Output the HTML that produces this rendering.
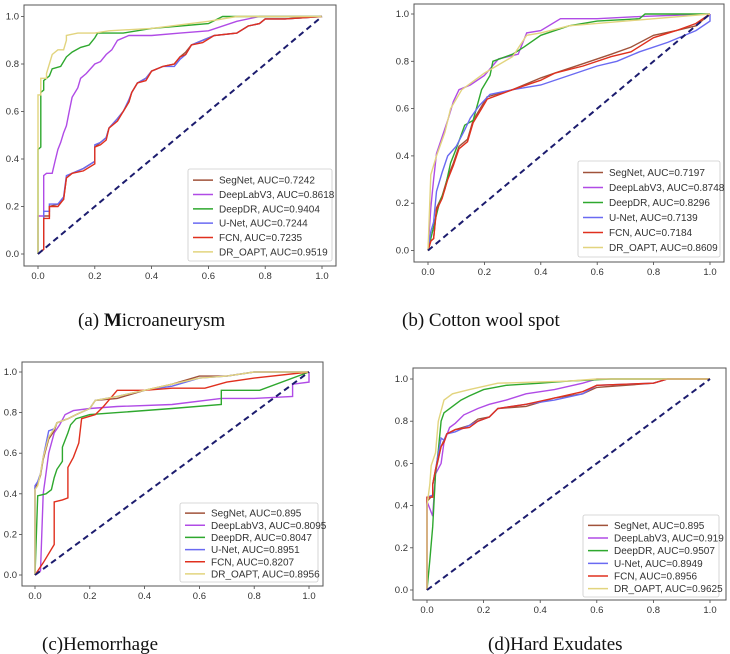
<!DOCTYPE html>
<html><head><meta charset="utf-8"><style>
html,body{margin:0;padding:0;background:#fff;}
svg{display:block;font-family:"Liberation Sans","DejaVu Sans",sans-serif;}
.cap{font-family:"Liberation Serif",serif;font-size:19px;fill:#111;}
</style></head><body>
<svg id="fig" width="730" height="654" viewBox="0 0 730 654"></svg>
<script>
const seriesNames = ["SegNet","DeepLabV3","DeepDR","U-Net","FCN","DR_OAPT"];
const seriesColors = ["#a0523a","#b04be6","#2ea82e","#6a6af2","#e0301e","#e2d47e"];
const tickLabels = ["0.0","0.2","0.4","0.6","0.8","1.0"];
const tickValues = [0,0.2,0.4,0.6,0.8,1.0];
const aucA = ["0.7242","0.8618","0.9404","0.7244","0.7235","0.9519"];
const aucB = ["0.7197","0.8748","0.8296","0.7139","0.7184","0.8609"];
const aucC = ["0.895","0.8095","0.8047","0.8951","0.8207","0.8956"];
const aucD = ["0.895","0.919","0.9507","0.8949","0.8956","0.9625"];

// Panel A (Microaneurysm) [fpr, tpr]
const aSegNet = [[0,0],[0.02,0.02],[0.02,0.16],[0.04,0.16],[0.04,0.2],[0.07,0.21],[0.09,0.23],[0.1,0.32],[0.12,0.34],[0.16,0.36],[0.2,0.39],[0.2,0.45],[0.22,0.47],[0.24,0.49],[0.25,0.53],[0.28,0.57],[0.3,0.6],[0.32,0.64],[0.33,0.68],[0.35,0.72],[0.38,0.74],[0.4,0.77],[0.44,0.79],[0.48,0.8],[0.5,0.83],[0.52,0.85],[0.54,0.88],[0.58,0.9],[0.62,0.92],[0.7,0.93],[0.74,0.96],[0.78,0.97],[0.8,0.99],[0.87,0.99],[1,1]];
const aDeepLab = [[0,0],[0,0.16],[0.02,0.16],[0.02,0.33],[0.03,0.34],[0.05,0.34],[0.06,0.39],[0.07,0.44],[0.08,0.47],[0.09,0.51],[0.1,0.54],[0.11,0.6],[0.12,0.66],[0.14,0.7],[0.15,0.74],[0.17,0.76],[0.2,0.8],[0.22,0.81],[0.24,0.84],[0.26,0.86],[0.28,0.9],[0.32,0.92],[0.4,0.92],[0.5,0.93],[0.6,0.94],[0.7,0.98],[0.78,1.0],[1,1]];
const aDeepDR = [[0,0],[0,0.44],[0.01,0.45],[0.01,0.68],[0.02,0.69],[0.02,0.73],[0.04,0.75],[0.05,0.78],[0.08,0.79],[0.1,0.83],[0.12,0.85],[0.15,0.87],[0.18,0.88],[0.2,0.91],[0.21,0.93],[0.3,0.93],[0.4,0.95],[0.5,0.96],[0.6,0.97],[0.65,1.0],[1,1]];
const aUNet = [[0,0],[0.02,0.02],[0.02,0.18],[0.04,0.18],[0.04,0.21],[0.07,0.21],[0.09,0.24],[0.1,0.33],[0.12,0.34],[0.16,0.36],[0.2,0.39],[0.2,0.46],[0.22,0.47],[0.24,0.49],[0.25,0.53],[0.28,0.57],[0.3,0.6],[0.32,0.65],[0.33,0.68],[0.35,0.72],[0.38,0.74],[0.4,0.77],[0.44,0.79],[0.48,0.79],[0.5,0.82],[0.52,0.84],[0.54,0.88],[0.58,0.9],[0.62,0.92],[0.7,0.93],[0.74,0.96],[0.78,0.97],[0.8,0.99],[0.87,0.99],[1,1]];
const aFCN = [[0,0],[0.02,0.02],[0.02,0.15],[0.04,0.15],[0.04,0.2],[0.07,0.2],[0.09,0.23],[0.1,0.32],[0.12,0.34],[0.16,0.35],[0.2,0.38],[0.2,0.45],[0.22,0.46],[0.24,0.48],[0.25,0.53],[0.28,0.56],[0.3,0.6],[0.32,0.64],[0.33,0.68],[0.35,0.72],[0.38,0.73],[0.4,0.77],[0.44,0.79],[0.48,0.8],[0.5,0.83],[0.52,0.84],[0.54,0.88],[0.58,0.89],[0.62,0.92],[0.7,0.93],[0.74,0.96],[0.78,0.97],[0.8,0.99],[0.87,0.99],[1,1]];
const aOAPT = [[0,0],[0,0.67],[0.01,0.67],[0.01,0.74],[0.03,0.74],[0.03,0.76],[0.05,0.84],[0.07,0.86],[0.09,0.86],[0.1,0.9],[0.1,0.92],[0.14,0.93],[0.2,0.93],[0.25,0.94],[0.4,0.95],[0.6,0.98],[0.7,1.0],[1,1]];

// Panel B (Cotton wool spot)
const bSegNet = [[0,0],[0.01,0.04],[0.02,0.05],[0.03,0.18],[0.05,0.23],[0.07,0.31],[0.09,0.37],[0.11,0.44],[0.14,0.47],[0.16,0.55],[0.19,0.61],[0.21,0.65],[0.3,0.68],[0.4,0.73],[0.45,0.75],[0.55,0.79],[0.65,0.83],[0.72,0.86],[0.8,0.91],[0.88,0.93],[0.95,0.95],[1,1]];
const bDeepLab = [[0,0],[0.01,0.18],[0.02,0.3],[0.03,0.41],[0.05,0.48],[0.07,0.55],[0.09,0.63],[0.11,0.68],[0.15,0.7],[0.2,0.74],[0.25,0.81],[0.32,0.83],[0.35,0.92],[0.4,0.93],[0.47,0.98],[0.6,0.98],[0.76,0.99],[1,1]];
const bDeepDR = [[0,0],[0.01,0.05],[0.02,0.1],[0.04,0.2],[0.06,0.26],[0.08,0.37],[0.1,0.43],[0.13,0.53],[0.16,0.55],[0.19,0.68],[0.22,0.74],[0.23,0.8],[0.3,0.83],[0.34,0.86],[0.4,0.91],[0.5,0.95],[0.6,0.97],[0.75,0.98],[0.77,1.0],[1,1]];
const bUNet = [[0,0],[0.01,0.08],[0.02,0.12],[0.03,0.25],[0.05,0.33],[0.07,0.4],[0.1,0.44],[0.13,0.51],[0.15,0.56],[0.18,0.61],[0.22,0.66],[0.3,0.68],[0.4,0.7],[0.5,0.74],[0.6,0.78],[0.67,0.8],[0.75,0.84],[0.85,0.88],[0.95,0.93],[1,0.97],[1,1]];
const bFCN = [[0,0],[0.01,0.04],[0.02,0.05],[0.03,0.17],[0.05,0.22],[0.07,0.3],[0.09,0.36],[0.11,0.43],[0.14,0.46],[0.16,0.54],[0.19,0.6],[0.21,0.64],[0.3,0.68],[0.4,0.72],[0.45,0.75],[0.55,0.78],[0.65,0.82],[0.72,0.84],[0.8,0.9],[0.88,0.93],[0.95,0.96],[1,1]];
const bOAPT = [[0,0],[0.01,0.32],[0.03,0.4],[0.06,0.5],[0.08,0.6],[0.12,0.68],[0.2,0.75],[0.3,0.82],[0.35,0.91],[0.4,0.92],[0.5,0.95],[0.7,0.97],[1,1]];

// Panel C (Hemorrhage)
const cSegNet = [[0,0],[0,0.43],[0.01,0.45],[0.02,0.49],[0.03,0.57],[0.05,0.67],[0.07,0.71],[0.08,0.75],[0.12,0.77],[0.15,0.79],[0.2,0.82],[0.22,0.86],[0.3,0.87],[0.4,0.91],[0.5,0.94],[0.6,0.98],[0.7,0.98],[0.8,1.0],[1,1]];
const cDeepLab = [[0,0],[0.02,0.02],[0.03,0.4],[0.04,0.5],[0.05,0.6],[0.07,0.7],[0.09,0.74],[0.11,0.79],[0.14,0.81],[0.2,0.82],[0.3,0.83],[0.5,0.84],[0.68,0.87],[0.8,0.87],[0.94,0.88],[0.94,0.94],[1,0.95],[1,1]];
const cDeepDR = [[0,0],[0.01,0.39],[0.04,0.4],[0.06,0.42],[0.07,0.48],[0.08,0.52],[0.1,0.56],[0.1,0.63],[0.12,0.7],[0.13,0.74],[0.15,0.77],[0.2,0.79],[0.3,0.8],[0.5,0.82],[0.68,0.84],[0.68,0.91],[0.82,0.91],[1,1]];
const cUNet = [[0,0],[0,0.44],[0.01,0.46],[0.02,0.5],[0.03,0.58],[0.05,0.71],[0.07,0.72],[0.08,0.75],[0.12,0.77],[0.15,0.79],[0.2,0.82],[0.22,0.86],[0.3,0.88],[0.4,0.91],[0.5,0.93],[0.6,0.97],[0.7,0.98],[0.8,1.0],[1,1]];
const cFCN = [[0,0],[0.03,0.06],[0.07,0.15],[0.07,0.36],[0.1,0.37],[0.12,0.38],[0.12,0.53],[0.14,0.58],[0.16,0.65],[0.17,0.77],[0.22,0.79],[0.25,0.83],[0.3,0.91],[0.4,0.91],[0.5,0.92],[0.62,0.92],[0.7,0.95],[0.8,0.97],[1,1]];
const cOAPT = [[0,0],[0,0.42],[0.01,0.44],[0.02,0.5],[0.03,0.58],[0.05,0.68],[0.07,0.72],[0.08,0.75],[0.12,0.77],[0.15,0.79],[0.2,0.82],[0.22,0.86],[0.3,0.88],[0.4,0.91],[0.5,0.94],[0.6,0.97],[0.7,0.98],[0.8,1.0],[1,1]];

// Panel D (Hard Exudates)
const dSegNet = [[0,0],[0,0.42],[0.02,0.45],[0.02,0.5],[0.03,0.56],[0.05,0.68],[0.06,0.71],[0.07,0.74],[0.1,0.76],[0.15,0.78],[0.18,0.81],[0.22,0.82],[0.25,0.86],[0.35,0.87],[0.45,0.91],[0.55,0.93],[0.6,0.96],[0.8,0.98],[0.85,1.0],[1,1]];
const dDeepLab = [[0,0],[0,0.42],[0.02,0.35],[0.03,0.55],[0.05,0.6],[0.06,0.7],[0.08,0.77],[0.1,0.79],[0.13,0.83],[0.18,0.86],[0.22,0.88],[0.28,0.9],[0.35,0.93],[0.45,0.95],[0.55,0.98],[0.6,1.0],[1,1]];
const dDeepDR = [[0,0],[0.01,0.14],[0.02,0.3],[0.03,0.55],[0.04,0.66],[0.05,0.8],[0.06,0.84],[0.09,0.87],[0.12,0.9],[0.15,0.92],[0.2,0.95],[0.28,0.97],[0.4,0.98],[0.5,0.99],[0.65,1],[1,1]];
const dUNet = [[0,0],[0,0.44],[0.02,0.45],[0.02,0.5],[0.03,0.57],[0.05,0.72],[0.06,0.71],[0.07,0.74],[0.1,0.75],[0.15,0.78],[0.18,0.8],[0.22,0.82],[0.25,0.86],[0.35,0.88],[0.45,0.9],[0.55,0.93],[0.6,0.97],[0.8,0.98],[0.85,1.0],[1,1]];
const dFCN = [[0,0],[0,0.44],[0.02,0.44],[0.02,0.5],[0.03,0.57],[0.05,0.68],[0.06,0.7],[0.07,0.74],[0.1,0.76],[0.15,0.77],[0.18,0.8],[0.22,0.82],[0.25,0.86],[0.35,0.88],[0.45,0.91],[0.55,0.94],[0.6,0.97],[0.8,0.98],[0.85,1.0],[1,1]];
const dOAPT = [[0,0],[0,0.4],[0.01,0.5],[0.015,0.59],[0.03,0.65],[0.04,0.8],[0.06,0.9],[0.09,0.93],[0.15,0.95],[0.25,0.98],[0.5,0.99],[0.6,1],[1,1]];

const NS = "http://www.w3.org/2000/svg";
const svg = document.getElementById("fig");
function mk(tag, attrs, parent){const e=document.createElementNS(NS,tag);for(const k in attrs)e.setAttribute(k,attrs[k]);(parent||svg).appendChild(e);return e;}

const panels = [
 {id:"a", frame:[24,5,336,266], x0:38, x1:322, y0:254, y1:16.5, leg:[188,169,332,261], cap:"(a) Microaneurysm", capX:78, capY:326, bold:true, auc:aucA, data:[aSegNet,aDeepLab,aDeepDR,aUNet,aFCN,aOAPT]},
 {id:"b", frame:[414,4,724,262], x0:428, x1:710, y0:250.5, y1:14, leg:[578,161,720,257], cap:"(b) Cotton wool spot", capX:402, capY:326, auc:aucB, data:[bSegNet,bDeepLab,bDeepDR,bUNet,bFCN,bOAPT]},
 {id:"c", frame:[22,362,323,586], x0:35, x1:309, y0:575, y1:372, leg:[180,503,318,582], cap:"(c)Hemorrhage", capX:42, capY:650, auc:aucC, data:[cSegNet,cDeepLab,cDeepDR,cUNet,cFCN,cOAPT]},
 {id:"d", frame:[413,368,726,600], x0:427, x1:710, y0:590, y1:379, leg:[583,515,719,597], cap:"(d)Hard Exudates", capX:488, capY:650, auc:aucD, data:[dSegNet,dDeepLab,dDeepDR,dUNet,dFCN,dOAPT]}
];

panels.forEach(p=>{
  const g = mk("g",{});
  
  
  const sx = v => p.x0 + v*(p.x1-p.x0);
  const sy = v => p.y0 - v*(p.y0-p.y1);
  const [fl,ft,fr,fb] = p.frame;
  tickValues.forEach((t,i)=>{
    mk("line",{x1:sx(t),x2:sx(t),y1:fb,y2:fb+3,stroke:"#444","stroke-width":0.8},g);
    const xt = mk("text",{x:sx(t),y:fb+13,"text-anchor":"middle","font-size":9.5,fill:"#333"},g);
    xt.textContent = tickLabels[i];
    
    
    mk("line",{x1:fl-3,x2:fl,y1:sy(t),y2:sy(t),stroke:"#444","stroke-width":0.8},g);
    const yt = mk("text",{x:fl-5,y:sy(t)+3,"text-anchor":"end","font-size":9.5,fill:"#333"},g);
    yt.textContent = tickLabels[i];
    
    
  });
  p.data.forEach((pts,si)=>{
    const pl = mk("polyline",{points:pts.map(q=>sx(q[0]).toFixed(1)+","+sy(q[1]).toFixed(1)).join(" "),fill:"none",stroke:seriesColors[si],"stroke-width":1.4,"stroke-linejoin":"miter"},g);
    
    
  });
  const dg = mk("line",{x1:sx(0),y1:sy(0),x2:sx(1),y2:sy(1),stroke:"#1c1c6e","stroke-width":2,"stroke-dasharray":"6,4"},g);
  
  
  const fr_ = mk("rect",{x:fl,y:ft,width:fr-fl,height:fb-ft,fill:"none",stroke:"#555","stroke-width":1},g);
  
  
  const [lx,ly,lr,lb] = p.leg;
  const lg = mk("g",{},g);
  
  
  mk("rect",{x:lx,y:ly,width:lr-lx,height:lb-ly,fill:"#fff",stroke:"#ccc","stroke-width":0.8,rx:2},lg);
  const rh = (lb-ly-6)/6;
  seriesNames.forEach((n,si)=>{
    const yy = ly+4+rh*(si+0.5);
    mk("line",{x1:lx+5,x2:lx+25,y1:yy,y2:yy,stroke:seriesColors[si],"stroke-width":1.5},lg);
    const t = mk("text",{x:lx+31,y:yy+3.5,"font-size":10,fill:"#333"},lg);
    t.textContent = n+", AUC="+p.auc[si];
    
    
  });
  const c = mk("text",{x:p.capX,y:p.capY,class:"cap"},g);
  if(p.bold){
    c.innerHTML = '(a) <tspan font-weight="bold">M</tspan>icroaneurysm';
  } else c.textContent = p.cap;
  
  
});
</script>
</body></html>
